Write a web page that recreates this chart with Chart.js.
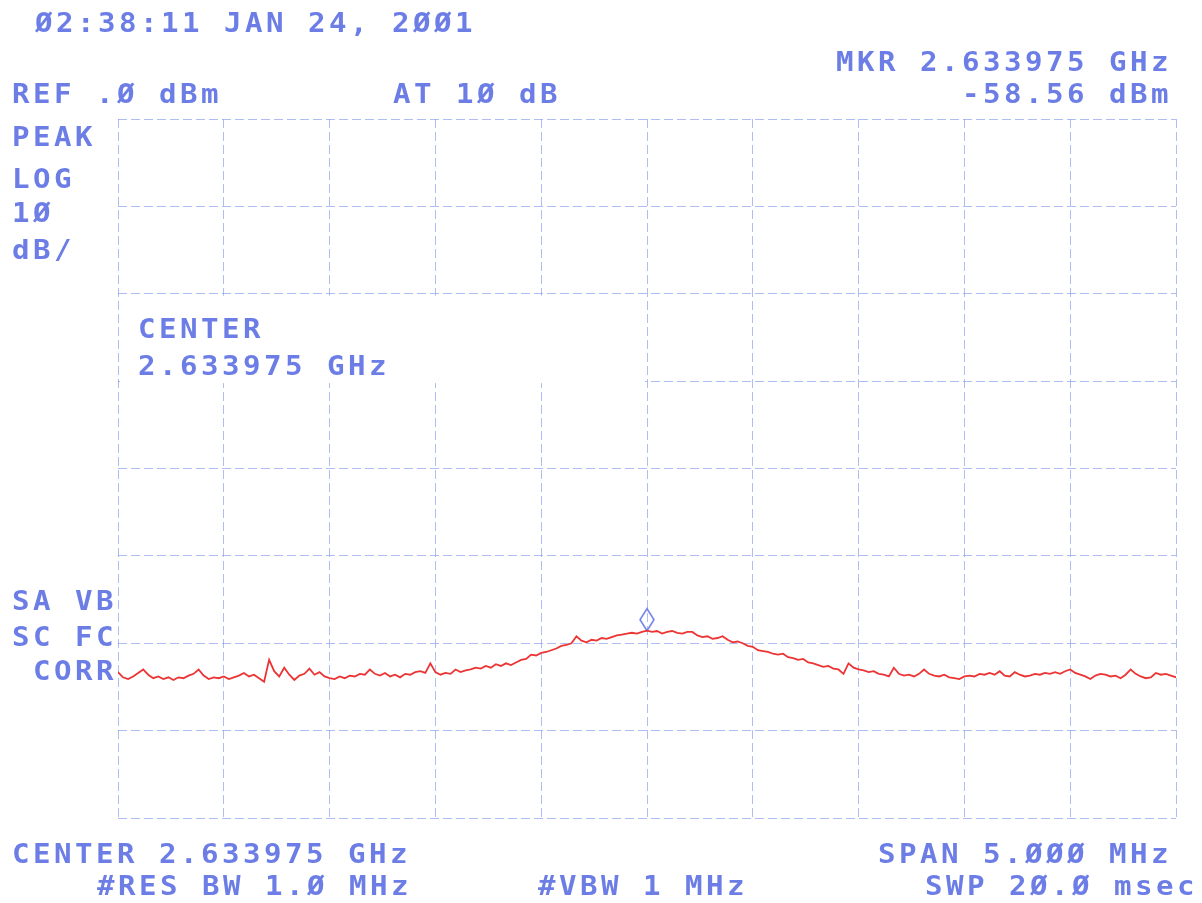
<!DOCTYPE html>
<html>
<head>
<meta charset="utf-8">
<script src="https://cdn.jsdelivr.net/npm/chart.js@4"></script>
<style>
  body { margin: 0; background: #fff; }
  #wrap { position: absolute; left: 0; top: 0; width: 1202px; height: 903px; }
  .t {
    position: absolute;
    font-family: "DejaVu Sans Mono", monospace;
    font-size: 26px;
    line-height: 26px;
    letter-spacing: 3.1px;
    font-weight: bold;
    color: #6c7ee6;
    white-space: pre;
    transform: scaleX(1.12);
    transform-origin: 0 0;
  }
</style>
</head>
<body>
<div id="wrap"><canvas id="myChart"></canvas></div>

<!-- header / footer annotations -->
<div class="t" style="left:35px; top:10px;">Ø2:38:11 JAN 24, 2ØØ1</div>
<div class="t" style="left:12px; top:81px;">REF .Ø dBm</div>
<div class="t" style="left:393px; top:81px;">AT 1Ø dB</div>
<div class="t" style="left:836px; top:49px;">MKR 2.633975 GHz</div>
<div class="t" style="left:962px; top:81px;">-58.56 dBm</div>
<div class="t" style="left:12px; top:124px;">PEAK</div>
<div class="t" style="left:12px; top:166px;">LOG</div>
<div class="t" style="left:12px; top:200px;">1Ø</div>
<div class="t" style="left:12px; top:237px;">dB/</div>
<div class="t" style="left:138px; top:316px;">CENTER</div>
<div class="t" style="left:138px; top:353px;">2.633975 GHz</div>
<div class="t" style="left:12px; top:588px;">SA VB</div>
<div class="t" style="left:12px; top:624px;">SC FC</div>
<div class="t" style="left:12px; top:658px;"> CORR</div>
<div class="t" style="left:12px; top:841px;">CENTER 2.633975 GHz</div>
<div class="t" style="left:878px; top:841px;">SPAN 5.ØØØ MHz</div>
<div class="t" style="left:97px; top:873px;">#RES BW 1.Ø MHz</div>
<div class="t" style="left:538px; top:873px;">#VBW 1 MHz</div>
<div class="t" style="left:925px; top:873px;">SWP 2Ø.Ø msec</div>

<script>
// sweep settings (offset from center, MHz) and amplitude scale
const spanMHz = 5;
const refLevel = 0;      // dBm, top of screen
const dbPerDiv = 10;
const vDivs = 8;
const hDivs = 10;

// marker read-out
const markerOffset = 0;
const markerLevel = -58.56;

// trace levels (dBm), 211 sweep points left to right
const traceDbm = [
  -63.3, -63.9, -64.1, -63.8, -63.4, -63.0, -63.6, -64.0, -63.8, -64.1,
  -63.9, -64.2, -63.9, -64.0, -63.7, -63.5, -63.0, -63.7, -64.1, -63.9,
  -64.0, -63.8, -64.1, -63.9, -63.7, -63.4, -63.8, -63.6, -64.0, -64.4,
  -61.9, -63.2, -63.8, -62.8, -63.6, -64.2, -63.7, -63.5, -62.9, -63.6,
  -63.3, -63.8, -64.0, -64.1, -63.8, -64.0, -63.7, -63.8, -63.5, -63.6,
  -63.0, -63.5, -63.7, -63.4, -63.8, -63.6, -63.9, -63.5, -63.6, -63.3,
  -63.2, -63.4, -62.3, -63.3, -63.6, -63.4, -63.5, -63.0, -63.3, -63.1,
  -63.0, -62.8, -62.9, -62.6, -62.8, -62.4, -62.6, -62.3, -62.5, -62.2,
  -61.9, -61.8, -61.3, -61.4, -61.1, -61.0, -60.8, -60.6, -60.3, -60.2,
  -60.0, -59.2, -59.7, -59.9, -59.6, -59.7, -59.4, -59.5, -59.3, -59.1,
  -59.0, -58.9, -58.8, -58.9, -58.7, -58.56, -58.7, -58.6, -58.9, -58.7,
  -58.6, -58.8, -58.9, -58.7, -58.7, -59.1, -59.3, -59.2, -59.5, -59.4,
  -59.2, -59.6, -59.9, -59.8, -60.0, -60.3, -60.4, -60.8, -60.9, -61.0,
  -61.2, -61.3, -61.2, -61.6, -61.7, -61.9, -61.8, -62.2, -62.3, -62.5,
  -62.7, -62.6, -62.9, -63.0, -63.5, -62.3, -62.8, -63.0, -63.1, -63.3,
  -63.2, -63.5, -63.6, -63.8, -62.8, -63.5, -63.7, -63.6, -63.8, -63.5,
  -63.0, -63.5, -63.7, -63.8, -63.6, -63.9, -64.0, -64.1, -63.8, -63.7,
  -63.8, -63.5, -63.6, -63.4, -63.6, -63.2, -63.7, -63.8, -63.3, -63.6,
  -63.8, -63.7, -63.5, -63.6, -63.4, -63.5, -63.3, -63.5, -63.2, -63.0,
  -63.4, -63.6, -63.8, -64.1, -63.7, -63.5, -63.6, -63.8, -63.7, -64.0,
  -63.6, -63.0, -63.5, -63.8, -64.0, -63.9, -63.4, -63.6, -63.5, -63.7,
  -63.9
];

const gridBlue = "rgba(130,155,238,0.65)";
const inkBlue = "#6c7ee6";

// each sweep point sits at an equal frequency step across the span
const step = spanMHz / (traceDbm.length - 1);
const tracePoints = traceDbm.map((v, i) => ({ x: -spanMHz / 2 + i * step, y: v }));

// marker diamond, tip pointing down onto the trace
function makeMarker() {
  const c = document.createElement("canvas");
  c.width = 18;
  c.height = 48;
  const g = c.getContext("2d");
  g.strokeStyle = inkBlue;
  g.lineWidth = 1.5;
  g.beginPath();
  g.moveTo(9, 24);
  g.lineTo(2, 13);
  g.lineTo(9, 2);
  g.lineTo(16, 13);
  g.closePath();
  g.stroke();
  return c;
}

// blank box behind the CENTER label (grid is not printed there)
const labelBox = {
  id: "labelBox",
  beforeDatasetsDraw(chart) {
    const { ctx, scales } = chart;
    const x0 = scales.x.getPixelForValue(-spanMHz / 2) + 2;
    const x1 = scales.x.getPixelForValue(0) - 2;
    const y0 = scales.y.getPixelForValue(-20) + 2;
    const y1 = scales.y.getPixelForValue(-30) + 2;
    ctx.save();
    ctx.fillStyle = "#fff";
    ctx.fillRect(x0, y0, x1 - x0, y1 - y0);
    ctx.restore();
  }
};

const myChart = document.getElementById("myChart");
const chart = new Chart(myChart, {
  type: "line",
  data: {
    datasets: [
      {
        data: tracePoints,
        borderColor: "rgb(236,52,52)",
        borderWidth: 1.8,
        pointRadius: 0,
        tension: 0
      },
      {
        data: [{ x: markerOffset, y: markerLevel }],
        showLine: false,
        pointStyle: makeMarker(),
        pointRadius: 10
      }
    ]
  },
  options: {
    responsive: true,
    maintainAspectRatio: false,
    animation: false,
    layout: { padding: { left: 118, top: 119, right: 26, bottom: 85 } },
    plugins: { legend: { display: false }, tooltip: { enabled: false } },
    scales: {
      x: {
        type: "linear",
        min: -spanMHz / 2,
        max: spanMHz / 2,
        ticks: { display: false, stepSize: spanMHz / hDivs },
        grid: { color: gridBlue, lineWidth: 1, drawTicks: false },
        border: { display: false, dash: [9, 4] }
      },
      y: {
        min: refLevel - dbPerDiv * vDivs,
        max: refLevel,
        ticks: { display: false, stepSize: dbPerDiv },
        grid: { color: gridBlue, lineWidth: 1, drawTicks: false },
        border: { display: false, dash: [9, 4] }
      }
    }
  },
  plugins: [labelBox]
});
</script>
</body>
</html>
